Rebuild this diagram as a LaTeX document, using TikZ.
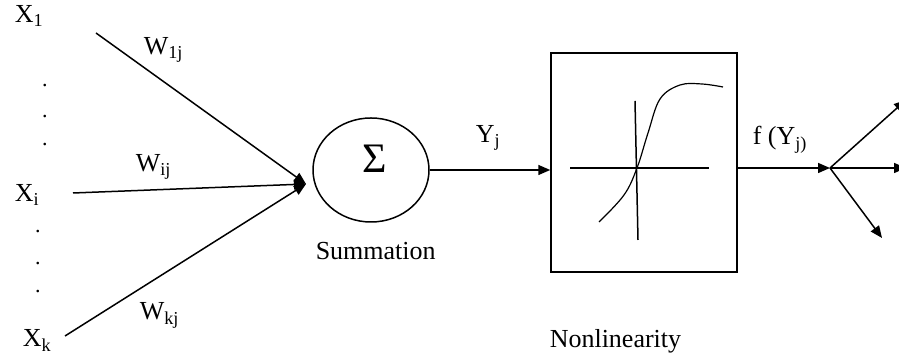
\documentclass[tikz,border=0pt]{standalone}
\usepackage{fontspec}
\setmainfont{Liberation Serif}
\usetikzlibrary{arrows.meta, shapes.geometric}

\begin{document}
\begin{tikzpicture}[x=0.5pt, y=-0.5pt, line width=0.75pt,
  lbl/.style={anchor=base west, inner sep=0pt, font=\fontsize{13}{15}\selectfont},
  dotlbl/.style={anchor=base, inner sep=0pt, font=\fontsize{11}{13}\selectfont},
  arr/.style={-{Triangle[length=6pt, width=5pt]}}]
  \useasboundingbox (0,0) rectangle (899,356);

  % inputs
  \coordinate (in1) at (96,33);
  \coordinate (ini) at (73,193);
  \coordinate (ink) at (65,336);
  \coordinate (hub) at (306,184);

  \node[lbl] (x1) at (14,23)  {X\textsubscript{1}};
  \node[lbl] (xi) at (14,202) {X\textsubscript{i}};
  \node[lbl] (xk) at (22,347) {X\textsubscript{k}};

  \node[dotlbl] (d1) at (45,87)  {.};
  \node[dotlbl] (d2) at (45,118) {.};
  \node[dotlbl] (d3) at (45,146) {.};
  \node[dotlbl] (d4) at (38,233) {.};
  \node[dotlbl] (d5) at (38,265) {.};
  \node[dotlbl] (d6) at (38,293) {.};

  \draw[arr] (in1) -- (hub);
  \draw[arr] (ini) -- (hub);
  \draw[arr] (ink) -- (hub);

  \node[lbl] (w1) at (143,55)  {W\textsubscript{1j}};
  \node[lbl] (wi) at (135,172) {W\textsubscript{ij}};
  \node[lbl] (wk) at (139,320) {W\textsubscript{kj}};

  % summation
  \node[draw, ellipse, inner sep=0pt, minimum width=58pt, minimum height=52pt] (sum) at (371,170) {};
  \node[inner sep=0pt, font=\fontsize{21}{22}\selectfont] (sigma) at (375,159) {Σ};
  \node[lbl] (sumlbl) at (315,260) {Summation};

  % nonlinearity
  \node[draw, inner sep=0pt, minimum width=93pt, minimum height=109.5pt] (box) at (644,162.5) {};
  \draw[arr] (sum.east) -- (sum.east -| box.west);
  \node[lbl] (yj) at (475,143) {Y\textsubscript{j}};

  \draw (570,168) -- (709,168);
  \draw (635,101) -- (638,240);
  \draw[line width=0.6pt] plot[smooth, tension=0.6] coordinates
    {(599,222) (624,195) (637,168) (648,133) (660,99) (680,85) (702,84) (723,87)};
  \node[lbl] (nllbl) at (549,348) {Nonlinearity};

  % output
  \coordinate (split) at (830,168);
  \draw[arr] (box.east |- split) -- (split);
  \node[lbl] (fy) at (752,145) {f (Y\textsubscript{j)}};
  \coordinate (o1) at (906,100);
  \coordinate (o2) at (906,168);
  \coordinate (o3) at (882,238);
  \draw[arr] (split) -- (o1);
  \draw[arr] (split) -- (o2);
  \draw[arr] (split) -- (o3);
\end{tikzpicture}
\end{document}
